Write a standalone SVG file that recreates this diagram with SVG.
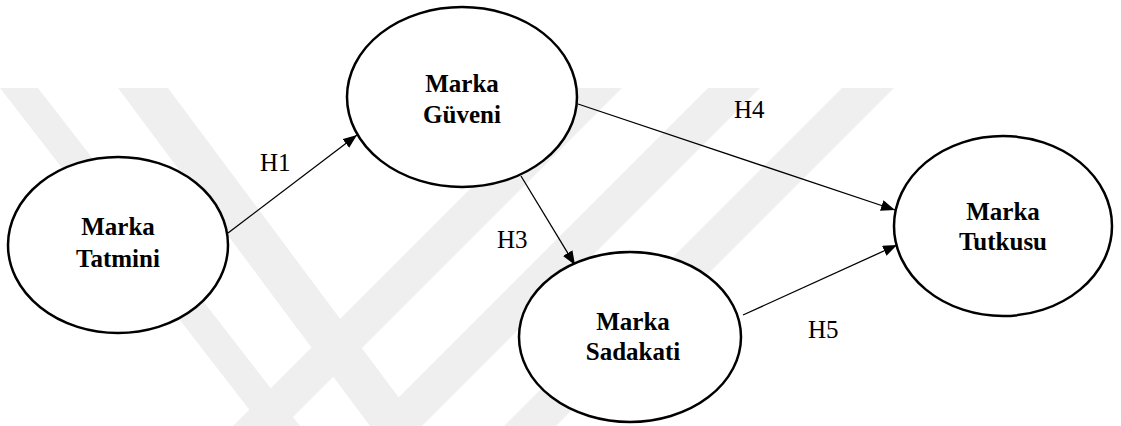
<svg xmlns="http://www.w3.org/2000/svg" width="1121" height="426" viewBox="0 0 1121 426">
<style>
.wm{fill:#efefef;stroke:none}
.node ellipse{fill:#ffffff;stroke:#000;stroke-width:2.5}
.node text{font-family:'Liberation Serif','DejaVu Serif',serif;font-weight:bold;font-size:25px;text-anchor:middle;fill:#000}
.lbl{font-family:'Liberation Serif','DejaVu Serif',serif;font-size:25px;fill:#000}
.edge{stroke:#000;stroke-width:1.3;fill:none;marker-end:url(#arr)}
</style>
<defs>
<marker id="arr" markerUnits="userSpaceOnUse" markerWidth="15" markerHeight="12" refX="14" refY="5.5" orient="auto">
<path d="M0,0 L14,5.5 L0,11 z" fill="#000"/>
</marker>
</defs>
<rect width="1121" height="426" fill="#fff"/>
<g id="watermark">
<polygon class="wm" points="0,88 38,88 300,426 262,426 0,88"/>
<polygon class="wm" points="118,88 168,88 420,426 370,426"/>
<polygon class="wm" points="571,88 622,88 284,426 233,426"/>
<polygon class="wm" points="708,88 760,88 422,426 370,426"/>
<polygon class="wm" points="842,88 894,88 556,426 504,426"/>
</g>
<g id="connectors">
<line class="edge" x1="228" y1="233" x2="357" y2="135"/>
<line class="edge" x1="521" y1="176" x2="575" y2="265"/>
<line class="edge" x1="578" y1="104" x2="895" y2="210"/>
<line class="edge" x1="743" y1="315" x2="897" y2="245"/>
<text class="lbl" x="260" y="171">H1</text>
<text class="lbl" x="497" y="248">H3</text>
<text class="lbl" x="734" y="118">H4</text>
<text class="lbl" x="808" y="338">H5</text>
</g>
<g id="n-tatmini" class="node">
<ellipse cx="118" cy="245" rx="110" ry="88"/>
<text x="118" y="235">Marka</text>
<text x="118" y="267">Tatmini</text>
</g>
<g id="n-guveni" class="node">
<ellipse cx="462" cy="97" rx="115" ry="90"/>
<text x="462" y="92">Marka</text>
<text x="462" y="123">Güveni</text>
</g>
<g id="n-sadakati" class="node">
<ellipse cx="630" cy="337" rx="111" ry="85"/>
<text x="633" y="330">Marka</text>
<text x="633" y="360">Sadakati</text>
</g>
<g id="n-tutkusu" class="node">
<ellipse cx="1003" cy="226" rx="109" ry="90"/>
<text x="1003" y="220">Marka</text>
<text x="1003" y="250">Tutkusu</text>
</g>
</svg>
